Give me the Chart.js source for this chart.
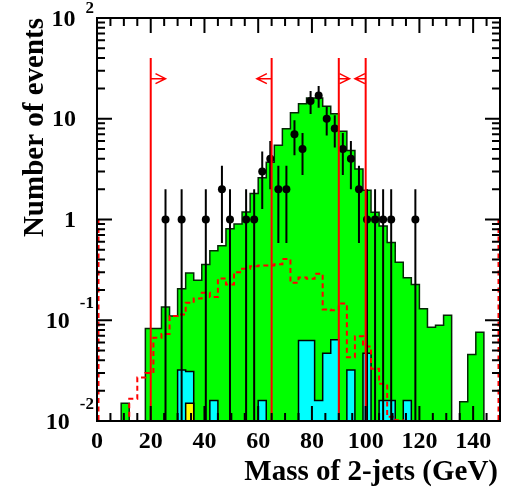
<!DOCTYPE html>
<html>
<head>
<meta charset="utf-8">
<script src="https://cdn.jsdelivr.net/npm/chart.js@4.4.0/dist/chart.umd.min.js"></script>
<style>
  html, body { margin: 0; padding: 0; background: #fff; }
  #wrap { width: 506px; height: 495px; }
</style>
</head>
<body>
<div id="wrap"><canvas id="chart-1" width="506" height="495"></canvas></div>
<script>
// Histogram binning: 50 bins of 3 GeV, 0 - 150 GeV
var binStart = 0;
var binWidth = 3;
var empty = 1e-4; // empty bin (below the log axis)

// Green: total expectation
var greenVals = [
    empty, empty, empty, 0.015, empty, empty, 0.083, 0.083, 0.135, 0.11,
    0.205, 0.295, 0.25, 0.357, 0.49, 0.55, 0.81, 0.90, 1.19, 1.81,
    2.59, 3.71, 5.46, 7.94, 11.5, 14.1, 16.1, 16.1, 13.3, 11.2,
    7.5, 4.84, 3.18, 1.95, 1.18, 0.86, 0.59, 0.377, 0.264, 0.226,
    0.13, 0.085, 0.089, 0.112, empty, 0.0155, 0.0457, 0.076, empty, empty
];

// Red dashed: signal
var redVals = [
    empty, empty, empty, empty, 0.0166, 0.027, 0.030, 0.067, 0.073, 0.11,
    0.114, 0.149, 0.164, 0.187, 0.17, 0.26, 0.226, 0.30, 0.324, 0.344,
    0.35, 0.35, 0.36, 0.405, 0.235, 0.265, 0.258, 0.289, 0.128, 0.126,
    0.147, 0.043, 0.0695, 0.055, 0.033, 0.0234, 0.011, 0.0102, empty, empty,
    empty, empty, empty, empty, empty, empty, empty, empty, empty, empty
];

// Cyan background
var cyanVals = [
    empty, empty, empty, empty, empty, empty, empty, empty, empty, empty,
    0.032, 0.031, empty, empty, 0.016, empty, empty, empty, empty, empty,
    0.016, empty, empty, empty, empty, 0.063, 0.063, 0.016, 0.047, 0.064,
    empty, 0.032, empty, 0.047, empty, 0.016, 0.016, empty, 0.016, empty,
    empty, empty, empty, empty, empty, empty, empty, empty, empty, empty
];

// Yellow background
var yellowVals = [
    empty, empty, empty, empty, empty, empty, empty, empty, empty, empty,
    empty, 0.015, empty, empty, empty, empty, empty, empty, empty, empty,
    empty, empty, empty, empty, empty, empty, empty, empty, empty, empty,
    empty, empty, empty, empty, empty, empty, empty, empty, empty, empty,
    empty, empty, empty, empty, empty, empty, empty, empty, empty, empty
];

// Data points
var dataMass = [25.5, 31.5, 40.5, 46.5, 49.5, 55.5, 58.5, 61.5, 64.5, 67.5, 70.5, 73.5, 76.5,
                79.5, 82.5, 85.5, 88.5, 91.5, 94.5, 97.5, 100.5, 103.5, 106.5, 109.5, 118.5];
var dataCounts = [1, 1, 1, 2, 1, 1, 1, 3, 4, 2, 2, 7, 5,
                  15, 17, 10, 8, 5, 4, 2, 1, 1, 1, 1, 1];

// Cut lines
var cutMass = [20, 65, 90, 100];
var cutDir = [1, -1, 1, -1];
var cutArrowLen = [5.5, 5.5, 4, 4];
var cutTop = 40;
var cutArrowAt = 25;

// Axis labels
var xTickValues = [0, 20, 40, 60, 80, 100, 120, 140];
var xTickLabels = ['0', '20', '40', '60', '80', '100', '120', '140'];
var yTickValues = [0.01, 0.1, 1, 10, 100];
var yTickBase = ['10', '10', '1', '10', '10'];
var yTickExp = ['-2', '-1', '', '', '2'];
var xTitle = 'Mass of 2-jets (GeV)';
var yTitle = 'Number of events';

var FONT = '"Liberation Serif", "Times New Roman", serif';

function histPoints(vals) {
    var pts = [];
    for (var i = 0; i < vals.length; i++) {
        pts.push({x: binStart + i * binWidth, y: vals[i]});
    }
    pts.push({x: binStart + vals.length * binWidth, y: empty});
    return pts;
}

function histDataset(vals, fillColor, lineColor, order) {
    return {
        data: histPoints(vals),
        stepped: 'before',
        fill: fillColor ? 'start' : false,
        backgroundColor: fillColor || 'transparent',
        borderColor: lineColor,
        borderWidth: 1.5,
        pointRadius: 0,
        order: order
    };
}

var rootFrame = {
    id: 'rootFrame',
    afterDatasetsDraw: function(chart) {
        var ctx = chart.ctx;
        var xs = chart.scales.x;
        var ys = chart.scales.y;
        var a = chart.chartArea;
        var i;
        ctx.save();

        // error bars
        ctx.strokeStyle = '#000';
        ctx.lineWidth = 2;
        ctx.beginPath();
        for (i = 0; i < dataMass.length; i++) {
            var n = dataCounts[i];
            var e = Math.sqrt(n);
            var px = xs.getPixelForValue(dataMass[i]);
            ctx.moveTo(px, ys.getPixelForValue(n + e));
            ctx.lineTo(px, ys.getPixelForValue(Math.max(n - e, ys.min)));
        }
        ctx.stroke();

        // red edge dashes of the signal histogram
        ctx.strokeStyle = '#ff0000';
        ctx.setLineDash([5, 3.5]);
        ctx.beginPath();
        ctx.moveTo(a.left + 1.5, ys.getPixelForValue(1));
        ctx.lineTo(a.left + 1.5, a.bottom);
        ctx.moveTo(a.right - 1.5, ys.getPixelForValue(1));
        ctx.lineTo(a.right - 1.5, a.bottom);
        ctx.stroke();
        ctx.setLineDash([]);

        // cut lines with arrows
        for (i = 0; i < cutMass.length; i++) {
            var cx = xs.getPixelForValue(cutMass[i]);
            var tip = xs.getPixelForValue(cutMass[i] + cutDir[i] * cutArrowLen[i]);
            var ay = ys.getPixelForValue(cutArrowAt);
            ctx.lineWidth = 2;
            ctx.beginPath();
            ctx.moveTo(cx, a.bottom);
            ctx.lineTo(cx, ys.getPixelForValue(cutTop));
            ctx.stroke();
            ctx.lineWidth = 1.5;
            ctx.beginPath();
            ctx.moveTo(cx, ay);
            ctx.lineTo(tip, ay);
            ctx.moveTo(tip - cutDir[i] * 10, ay - 5);
            ctx.lineTo(tip, ay);
            ctx.lineTo(tip - cutDir[i] * 10, ay + 5);
            ctx.stroke();
        }

        // frame and inward ticks
        ctx.strokeStyle = '#000';
        ctx.lineWidth = 2;
        ctx.strokeRect(a.left, a.top, a.right - a.left, a.bottom - a.top);
        ctx.beginPath();
        for (var v = xs.min; v <= xs.max; v += 5) {
            var tx = xs.getPixelForValue(v);
            var tl = (v % 20 === 0) ? 15 : 8;
            ctx.moveTo(tx, a.bottom);
            ctx.lineTo(tx, a.bottom - tl);
            ctx.moveTo(tx, a.top);
            ctx.lineTo(tx, a.top + tl);
        }
        for (var d = 0.01; d < 100; d *= 10) {
            for (var m = 1; m < 10; m++) {
                var ty = ys.getPixelForValue(m * d);
                var yl = (m === 1) ? 15 : 8;
                ctx.moveTo(a.left, ty);
                ctx.lineTo(a.left + yl, ty);
                ctx.moveTo(a.right, ty);
                ctx.lineTo(a.right - yl, ty);
            }
        }
        ctx.stroke();

        // tick labels
        ctx.fillStyle = '#000';
        ctx.font = 'bold 24px ' + FONT;
        ctx.textAlign = 'center';
        ctx.textBaseline = 'middle';
        for (i = 0; i < xTickValues.length; i++) {
            ctx.fillText(xTickLabels[i], xs.getPixelForValue(xTickValues[i]), a.bottom + 21);
        }
        for (i = 0; i < yTickValues.length; i++) {
            var py = ys.getPixelForValue(yTickValues[i]) + 1.5;
            if (yTickExp[i] === '') {
                ctx.font = 'bold 24px ' + FONT;
                ctx.textAlign = 'right';
                ctx.fillText(yTickBase[i], 76, py);
            } else {
                ctx.font = 'bold 17px ' + FONT;
                var w = ctx.measureText(yTickExp[i]).width;
                var ex = 94 - w;
                var ey = Math.max(py - 18, 9);
                ctx.textAlign = 'left';
                ctx.fillText(yTickExp[i], ex, ey);
                ctx.font = 'bold 24px ' + FONT;
                ctx.textAlign = 'right';
                ctx.fillText(yTickBase[i], ex - 10, py);
            }
        }

        // axis titles
        ctx.font = 'bold 29px ' + FONT;
        ctx.textAlign = 'right';
        ctx.textBaseline = 'alphabetic';
        ctx.fillText(xTitle, a.right - 2, 480);
        ctx.translate(43, a.top);
        ctx.rotate(-Math.PI / 2);
        ctx.fillText(yTitle, 0, 0);
        ctx.restore();
    }
};

var ctx = document.getElementById('chart-1').getContext('2d');
var chart = new Chart(ctx, {
    type: 'line',
    data: {
        datasets: [
            {
                data: dataMass.map(function(m, i) { return {x: m, y: dataCounts[i]}; }),
                showLine: false,
                pointRadius: 4,
                pointBackgroundColor: '#000',
                pointBorderWidth: 0,
                order: 0
            },
            histDataset(redVals, null, '#ff0000', 1),
            histDataset(yellowVals, '#ffff00', '#000', 2),
            histDataset(cyanVals, '#00ffff', '#000', 3),
            histDataset(greenVals, '#00ff00', '#062506', 4)
        ]
    },
    options: {
        responsive: false,
        animation: false,
        layout: { padding: { left: 97, right: 6, top: 18, bottom: 74 } },
        scales: {
            x: { type: 'linear', min: 0, max: 150, display: false },
            y: { type: 'logarithmic', min: 0.01, max: 100, display: false }
        },
        plugins: { legend: { display: false }, tooltip: { enabled: false } }
    },
    plugins: [rootFrame]
});
chart.data.datasets[1].borderDash = [5, 3.5];
chart.data.datasets[1].borderWidth = 2;
chart.update('none');
</script>
</body>
</html>
